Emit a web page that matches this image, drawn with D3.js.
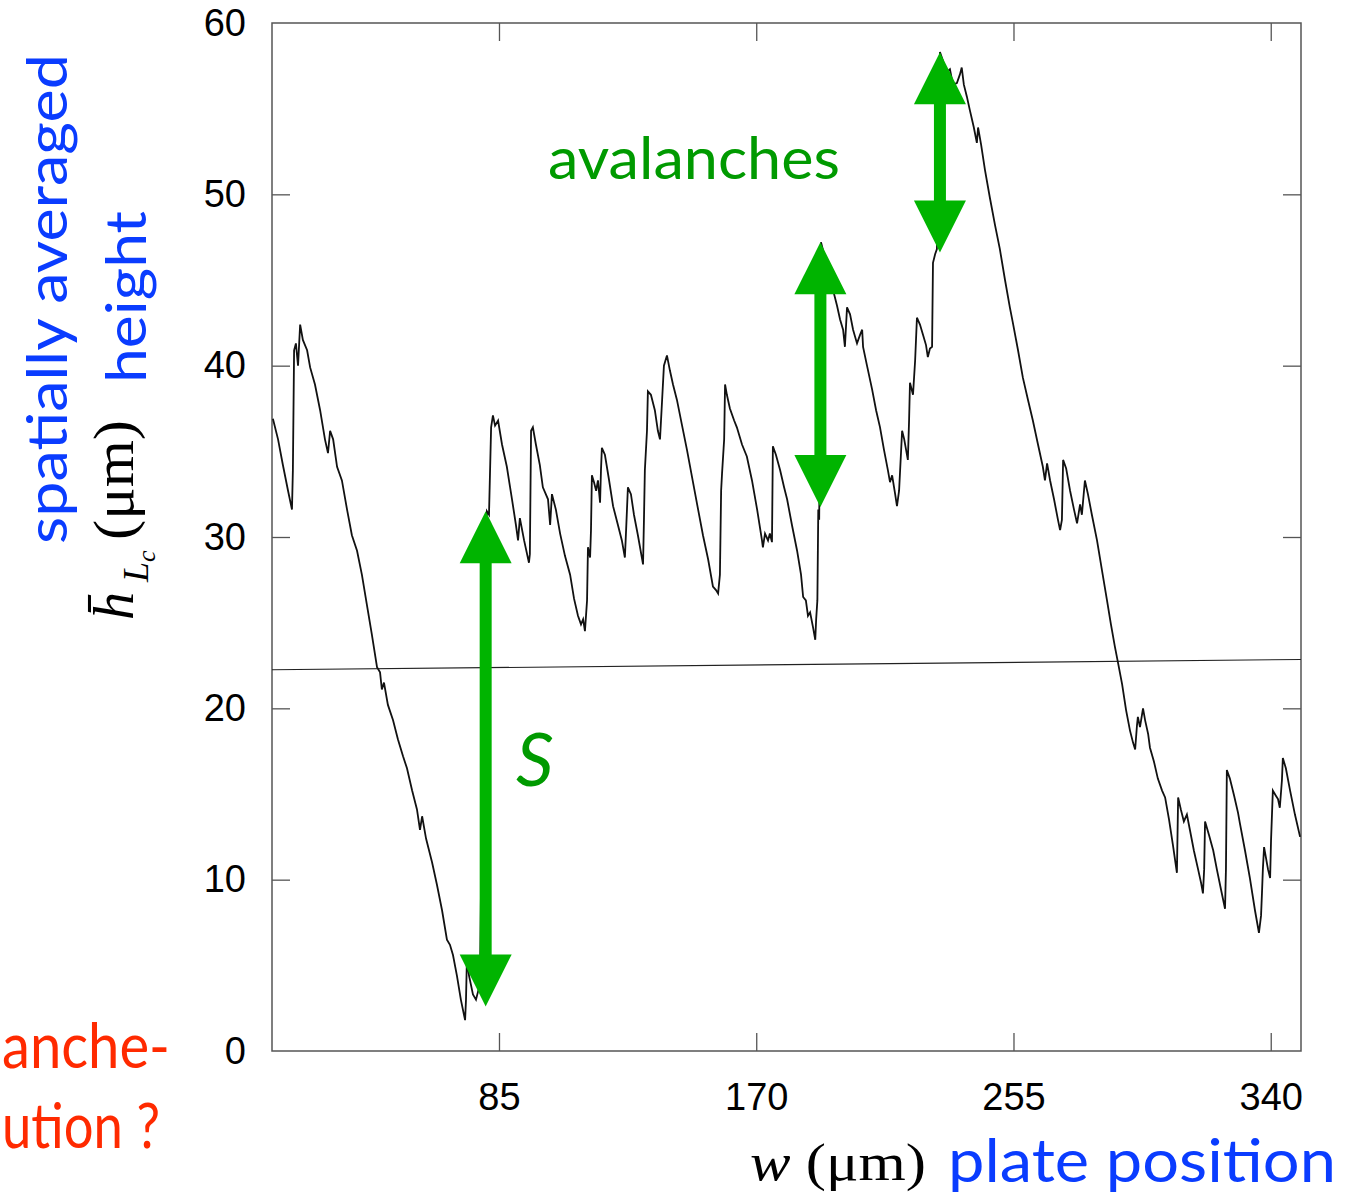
<!DOCTYPE html>
<html>
<head>
<meta charset="utf-8">
<script src="https://cdn.jsdelivr.net/npm/d3@7"></script>
<style>
  html, body { margin: 0; padding: 0; background: #fff; }
  svg { display: block; }
</style>
</head>
<body>
<svg id="chart" width="1349" height="1199"></svg>
<script>
// ---------------- data ----------------
const xTicks = [85, 170, 255, 340];
const yTicks = [0, 10, 20, 30, 40, 50, 60];

const wPos = [
  10.3,12.0,13.6,15.3,16.6,16.9,17.3,17.9,18.6,19.3,20.2,21.6,22.6,24.2,25.9,27.5,28.5,29.2,30.2,31.5,
  33.1,34.8,36.4,38.1,39.7,41.4,43.0,44.7,45.7,46.3,47.0,48.3,50.0,51.6,53.3,54.6,56.3,57.9,58.9,59.6,
  60.9,62.9,64.5,66.2,67.8,68.8,69.8,71.1,72.4,73.8,74.1,74.4,75.1,76.4,77.4,78.7,79.4,80.4,81.0,81.7,
  82.4,83.0,83.7,84.7,86.0,87.6,89.3,90.6,91.3,91.9,93.3,94.9,95.2,95.6,96.2,97.2,98.5,99.5,101.2,101.9,
  102.5,103.8,105.2,106.8,108.5,109.8,111.1,112.1,112.8,113.4,114.1,114.4,115.1,115.4,115.7,116.4,117.1,117.7,118.4,118.7,
  119.0,120.0,121.3,122.7,124.3,125.6,126.6,127.0,127.6,128.6,129.6,130.9,132.6,132.9,133.2,133.9,134.2,135.2,136.5,137.5,
  138.2,138.9,139.5,140.5,141.5,142.5,143.8,145.5,147.1,149.1,150.8,152.4,154.1,155.7,156.7,157.4,158.0,158.4,158.7,159.4,
  159.7,160.3,161.3,162.7,163.6,165.3,166.9,168.6,170.3,171.9,172.2,172.9,173.9,174.5,175.2,175.5,176.5,177.9,179.2,180.2,
  181.8,183.5,184.8,185.5,186.4,187.1,187.8,188.8,189.5,189.8,190.2,190.5,190.8,191.1,191.4,192.4,193.8,195.4,196.7,197.7,
  198.7,199.3,200.0,201.0,202.0,203.3,204.3,205.0,205.3,206.6,208.3,209.6,210.9,212.2,213.5,214.2,214.9,215.9,216.5,217.2,
  218.2,218.9,219.5,220.1,220.5,220.8,221.8,222.5,223.1,224.1,225.1,226.1,226.7,227.4,228.1,228.4,229.1,229.7,230.1,230.7,
  231.7,232.7,234.0,235.0,236.3,237.3,237.9,238.6,239.6,240.6,241.9,242.9,243.3,244.3,245.6,247.2,248.9,250.5,252.2,253.8,
  254.8,256.5,258.1,259.8,261.4,263.1,264.7,265.4,266.1,267.1,268.4,269.7,270.4,271.0,271.4,272.4,273.7,275.0,276.0,277.0,
  277.6,278.6,279.6,280.9,282.6,284.2,285.9,287.2,288.5,289.5,290.9,292.2,293.5,294.5,295.2,295.8,296.1,296.8,297.8,298.5,
  299.5,300.1,301.4,302.7,304.1,305.1,306.4,307.7,309.0,309.4,310.3,311.3,312.3,313.3,314.6,316.0,317.0,317.6,318.0,318.3,
  319.6,321.0,322.2,323.6,324.9,325.2,325.5,326.5,327.9,329.2,329.8,331.5,333.1,334.8,336.1,336.8,337.1,337.4,337.8,338.4,
  339.1,339.8,340.1,340.7,341.7,342.4,343.0,343.7,344.0,345.0,346.4,348.0,349.7
];
const hAvg = [
  36.9,35.7,34.2,32.7,31.6,33.9,40.9,41.3,40.0,42.4,41.5,40.9,39.9,38.9,37.4,35.7,34.9,36.2,35.7,34.1,
  33.3,31.6,30.1,29.2,27.8,26.0,24.3,22.4,22.1,21.1,21.5,20.2,19.3,18.2,17.2,16.5,15.2,14.1,12.9,13.7,
  12.4,11.0,9.7,8.2,6.5,6.2,5.6,4.4,3.0,1.8,3.0,5.4,4.4,3.3,3.0,3.9,14.7,28.7,31.5,31.3,
  36.4,37.1,36.5,36.8,35.4,34.1,32.2,30.7,29.8,31.1,29.8,28.5,29.0,36.2,36.4,35.4,34.2,32.9,32.2,30.7,
  32.5,31.6,30.2,28.9,27.8,26.4,25.4,24.9,25.2,24.5,26.3,29.4,28.8,30.4,33.6,33.2,32.7,33.3,32.0,33.9,
  35.2,34.8,33.4,31.8,30.7,29.8,28.8,30.4,32.9,32.5,31.3,30.1,28.4,31.0,33.9,36.2,38.5,38.3,37.4,36.2,
  35.7,38.0,40.0,40.6,39.7,38.9,38.0,36.5,35.1,33.2,31.6,30.1,28.7,27.1,26.9,26.7,27.8,32.7,33.7,35.7,
  38.9,38.3,37.5,36.8,36.4,35.4,34.7,33.3,31.6,29.8,29.4,30.2,29.8,30.2,29.7,35.3,34.8,33.9,32.9,32.2,
  30.7,29.2,27.8,26.5,26.3,25.4,25.6,24.7,24.0,25.2,26.3,31.6,31.0,38.0,47.2,46.5,45.6,44.4,43.5,42.7,
  42.1,41.1,43.4,43.0,42.1,41.3,41.8,42.1,41.1,40.0,38.6,37.4,36.4,35.1,33.9,33.2,33.6,32.5,31.8,32.7,
  36.2,35.7,35.1,34.5,36.8,39.0,38.3,40.3,42.8,42.4,41.8,41.2,40.5,41.0,41.1,46.0,46.5,46.8,52.6,58.3,
  57.8,57.1,57.3,56.4,56.5,57.0,57.4,56.4,55.7,54.9,53.9,53.0,53.9,52.9,51.4,49.8,48.2,46.8,45.0,43.4,
  42.5,40.9,39.3,38.0,36.8,35.4,34.1,33.3,34.3,33.3,32.2,31.0,30.4,31.0,34.5,34.0,32.7,31.6,30.8,31.9,
  31.3,33.3,32.5,31.3,29.8,28.1,26.3,24.9,23.6,22.7,21.4,19.9,18.7,18.0,17.6,19.0,19.5,18.9,20.0,19.3,
  18.5,17.7,16.9,15.9,15.2,14.8,13.5,12.0,10.4,14.8,14.1,13.4,13.8,12.9,11.7,10.6,9.8,9.2,10.6,13.4,
  12.6,11.7,10.6,9.4,8.3,10.6,16.4,15.9,14.9,13.9,13.3,11.7,10.1,8.2,6.9,7.9,9.2,10.6,11.9,11.3,
  10.6,10.1,12.3,15.2,14.9,14.7,14.2,15.8,17.1,16.5,15.2,13.8,12.5
];

// linear fit line
const fitW = [10, 350];
const fitH = [22.25, 22.85];

// double-headed arrows
const arrowX   = [80.6, 191.2, 230.7];
const arrowTop = [31.5, 47.2, 58.3];
const arrowBot = [2.6, 31.75, 46.6];

// ---------------- layout ----------------
const svg = d3.select("#chart");
const L = 272, R = 1301, T = 23, B = 1051;
const x = d3.scaleLinear().domain([10, 350]).range([L, R]);
const y = d3.scaleLinear().domain([0, 60]).range([B, T]);

const tickLen = 18;
const frameColor = "#555";

svg.append("defs").append("clipPath").attr("id", "plotclip")
  .append("rect").attr("x", L).attr("y", T).attr("width", R - L).attr("height", B - T);

const axL = svg.append("g").attr("transform", `translate(${L},0)`)
  .call(d3.axisLeft(y).tickValues(yTicks).tickSize(-tickLen).tickPadding(26).tickFormat(d3.format("d")));
const axR = svg.append("g").attr("transform", `translate(${R},0)`)
  .call(d3.axisRight(y).tickValues(yTicks).tickSize(-tickLen).tickFormat(""));
const axB = svg.append("g").attr("transform", `translate(0,${B})`)
  .call(d3.axisBottom(x).tickValues(xTicks).tickSize(-tickLen).tickPadding(32).tickFormat(d3.format("d")));
const axT = svg.append("g").attr("transform", `translate(0,${T})`)
  .call(d3.axisTop(x).tickValues(xTicks).tickSize(-tickLen).tickFormat(""));

[axL, axR, axB, axT].forEach(g => {
  g.select(".domain").remove();
  g.selectAll(".tick line").attr("stroke", frameColor).attr("stroke-width", 1.3);
  g.selectAll(".tick text").attr("font-family", "'Liberation Sans', Arial, sans-serif")
    .attr("font-size", 38).attr("fill", "#000");
});
axL.selectAll(".tick").filter(d => d === 0 || d === 60).select("line").remove();
axR.selectAll(".tick").filter(d => d === 0 || d === 60).select("line").remove();

svg.append("rect").attr("x", L).attr("y", T).attr("width", R - L).attr("height", B - T)
  .attr("fill", "none").attr("stroke", frameColor).attr("stroke-width", 1.5);

const plot = svg.append("g").attr("clip-path", "url(#plotclip)");

plot.append("path")
  .attr("d", d3.line().x((d, i) => x(fitW[i])).y((d, i) => y(fitH[i]))(fitW))
  .attr("fill", "none").attr("stroke", "#222").attr("stroke-width", 1.1);

const pts = wPos.map((w, i) => [w, hAvg[i]]);
plot.append("path")
  .attr("d", d3.line().x(d => x(d[0])).y(d => y(d[1]))(pts))
  .attr("fill", "none").attr("stroke", "#111").attr("stroke-width", 1.8)
  .attr("stroke-linejoin", "miter");

const arrowColor = "#00b400";
const headLen = 52, headHalf = 26, shaft = 12;
const ag = svg.append("g");
arrowX.forEach((ax, i) => {
  const px = x(ax), yt = y(arrowTop[i]), yb = y(arrowBot[i]);
  ag.append("line").attr("x1", px).attr("x2", px)
    .attr("y1", yt + headLen - 2).attr("y2", yb - headLen + 2)
    .attr("stroke", arrowColor).attr("stroke-width", shaft);
  ag.append("polygon").attr("points",
    `${px},${yt} ${px - headHalf},${yt + headLen} ${px + headHalf},${yt + headLen}`)
    .attr("fill", arrowColor);
  ag.append("polygon").attr("points",
    `${px},${yb} ${px - headHalf},${yb - headLen} ${px + headHalf},${yb - headLen}`)
    .attr("fill", arrowColor);
});

// ---------------- texts ----------------
const humanist = "Lato, 'Open Sans', sans-serif";
const serif = "'Liberation Serif', 'DejaVu Serif', serif";
const blue = "#0a3cff", green = "#009a00", red = "#ff2a00";

svg.append("text").attr("x", 548).attr("y", 179)
  .attr("font-family", humanist).attr("font-size", 58).attr("fill", green)
  .attr("textLength", 292).attr("lengthAdjust", "spacingAndGlyphs")
  .text("avalanches");

svg.append("text").attr("x", 516).attr("y", 786)
  .attr("font-family", humanist).attr("font-size", 74).attr("font-style", "italic")
  .attr("fill", green).text("S");

svg.append("text").attr("x", 750).attr("y", 1180)
  .attr("font-family", serif).attr("font-size", 52).attr("fill", "#000")
  .attr("textLength", 176).attr("lengthAdjust", "spacingAndGlyphs")
  .call(t => {
    t.append("tspan").attr("font-style", "italic").text("w");
    t.append("tspan").text(" (μm)");
  });
svg.append("text").attr("x", 948).attr("y", 1182)
  .attr("font-family", humanist).attr("font-size", 60).attr("fill", blue)
  .attr("textLength", 388).attr("lengthAdjust", "spacingAndGlyphs")
  .text("plate position");

svg.append("text").attr("transform", "translate(67,544) rotate(-90)")
  .attr("font-family", humanist).attr("font-size", 56).attr("fill", blue)
  .attr("textLength", 490).attr("lengthAdjust", "spacingAndGlyphs")
  .text("spatially averaged");
svg.append("text").attr("transform", "translate(146,383) rotate(-90)")
  .attr("font-family", humanist).attr("font-size", 56).attr("fill", blue)
  .attr("textLength", 172).attr("lengthAdjust", "spacingAndGlyphs")
  .text("height");

svg.append("text").attr("transform", "translate(133,620) rotate(-90)")
  .attr("font-family", serif).attr("font-size", 56).attr("font-style", "italic")
  .attr("fill", "#000").text("h\u0304");
svg.append("text").attr("transform", "translate(148,582) rotate(-90)")
  .attr("font-family", serif).attr("font-size", 36).attr("font-style", "italic")
  .attr("fill", "#000").call(t => {
    t.append("tspan").text("L");
    t.append("tspan").attr("font-size", 26).attr("dy", 7).text("c");
  });
svg.append("text").attr("transform", "translate(133,540) rotate(-90)")
  .attr("font-family", serif).attr("font-size", 56).attr("fill", "#000")
  .attr("textLength", 120).attr("lengthAdjust", "spacingAndGlyphs")
  .text("(μm)");

svg.append("text").attr("x", 2).attr("y", 1068)
  .attr("font-family", humanist).attr("font-size", 62).attr("fill", red)
  .attr("textLength", 168).attr("lengthAdjust", "spacingAndGlyphs")
  .text("anche-");
svg.append("text").attr("x", 2).attr("y", 1148)
  .attr("font-family", humanist).attr("font-size", 62).attr("fill", red)
  .attr("textLength", 158).attr("lengthAdjust", "spacingAndGlyphs")
  .text("ution ?");
</script>
</body>
</html>
